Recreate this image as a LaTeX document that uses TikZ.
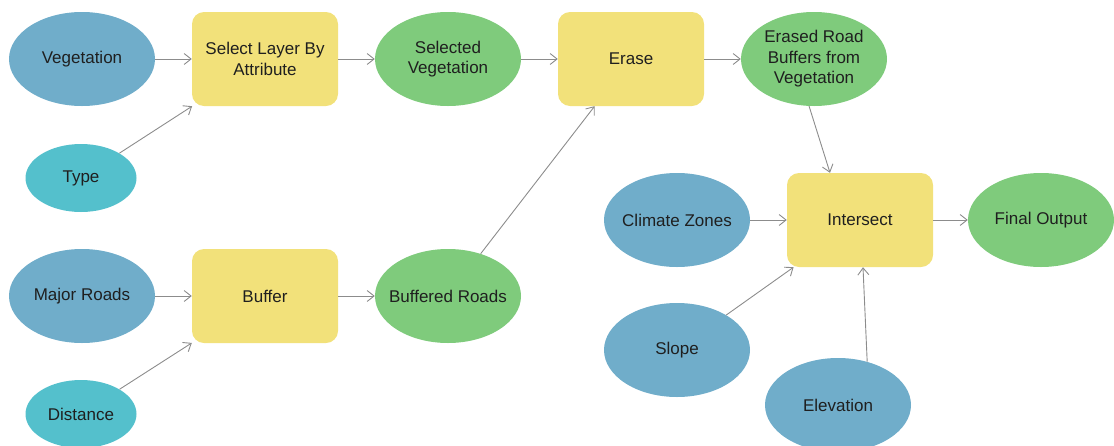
\documentclass[tikz,border=0pt]{standalone}
\usepackage{fontspec}
\setmainfont{Liberation Sans}
\usetikzlibrary{shapes.geometric,arrows.meta}
\definecolor{inblue}{RGB}{112,173,202}
\definecolor{incyan}{RGB}{84,192,204}
\definecolor{toolyel}{RGB}{242,225,122}
\definecolor{outgreen}{RGB}{127,203,124}
\definecolor{linegray}{RGB}{140,140,140}
\newcommand{\nw}[1]{\makebox[0pt][c]{#1}}
\begin{document}
\begin{tikzpicture}[x=1pt,y=-1pt,
  base/.style={font=\fontsize{17}{20.5}\selectfont, text=black!88, align=center, inner sep=0pt},
  inp/.style={base, ellipse, fill=inblue, minimum width=146pt, minimum height=94pt},
  par/.style={base, ellipse, fill=incyan, minimum width=111pt, minimum height=68pt},
  outp/.style={base, ellipse, fill=outgreen, minimum width=146pt, minimum height=94pt},
  tool/.style={base, rectangle, rounded corners=12pt, fill=toolyel, minimum width=146pt, minimum height=94pt},
  arr/.style={draw=linegray, line width=0.9pt, -{Straight Barb[length=7pt,width=11pt]}}
]
\useasboundingbox (0,0) rectangle (1114,445);

\node[inp]  (veg)    at (82,59)   {Vegetation};
\node[par]  (type)   at (81,178)  {Type};
\node[tool] (sel)    at (265,59)  {Select Layer By\\Attribute};
\node[outp] (selveg) at (448,59)  {Selected\\Vegetation};
\node[tool] (erase)  at (631,59)  {Erase};
\node[outp] (ers)    at (814,59)  {Erased Road\\Buffers from\\Vegetation};

\node[inp]  (maj)    at (82,296)  {\nw{Major Roads}};
\node[par]  (dist)   at (81,414)  {Distance};
\node[tool] (buf)    at (265,296) {Buffer};
\node[outp] (bufr)   at (448,296) {\nw{Buffered Roads}};

\node[inp]  (clim)   at (677,220) {\nw{Climate Zones}};
\node[tool] (int)    at (860,220) {Intersect};
\node[outp] (fin)    at (1041,220) {\nw{Final Output}};
\node[inp]  (slope)  at (677,350) {Slope};
\node[inp]  (elev)   at (838,405) {Elevation};

\draw[arr] (veg) -- (sel);
\draw[arr] (type) -- (sel);
\draw[arr] (sel) -- (selveg);
\draw[arr] (selveg) -- (erase);
\draw[arr] (erase) -- (ers);
\draw[arr] (maj) -- (buf);
\draw[arr] (dist) -- (buf);
\draw[arr] (buf) -- (bufr);
\draw[arr] (bufr) -- (erase);
\draw[arr] (ers.-96) -- ([xshift=-30pt]int.north);
\draw[arr] (clim) -- (int);
\draw[arr] (int) -- (fin);
\draw[arr] (slope) -- (int);
\draw[arr] (elev.56) -- ([xshift=3pt]int.south);
\end{tikzpicture}
\end{document}
